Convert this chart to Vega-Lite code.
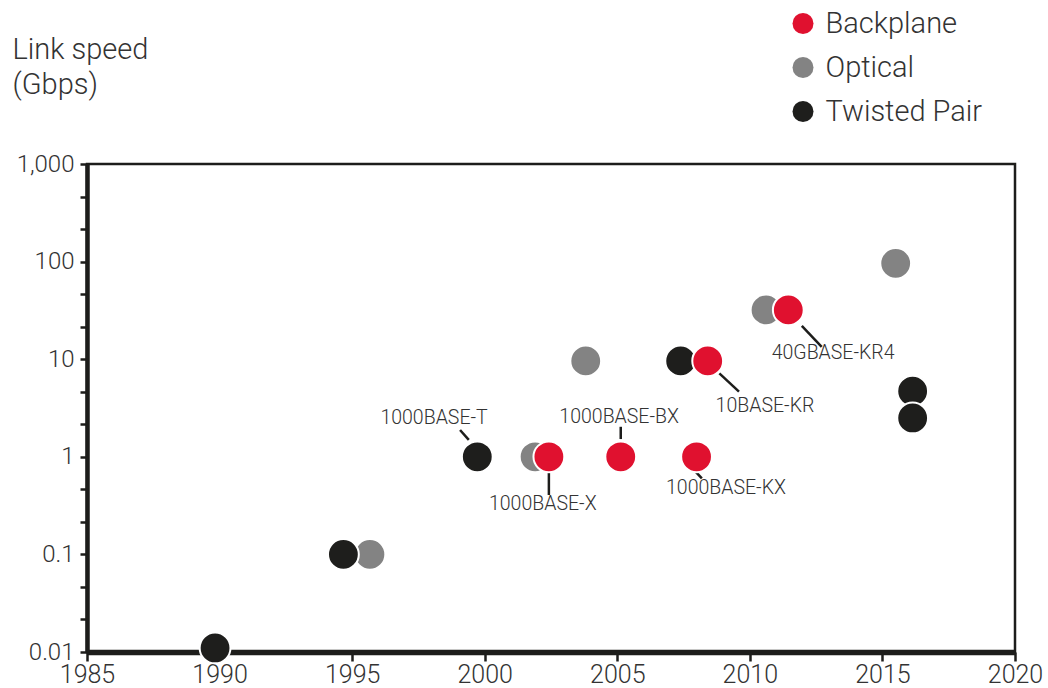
{
  "$schema": "https://vega.github.io/schema/vega-lite/v6.json",
  "width": 928,
  "height": 488,
  "autosize": {"type": "none"},
  "padding": {"left": 87, "top": 164, "right": 33, "bottom": 36},
  "background": "white",
  "config": {
    "font": "Roboto",
    "view": {"stroke": "#1d1d1b", "strokeWidth": 2.5},
    "axis": {
      "grid": false,
      "domainColor": "#1d1d1b",
      "tickColor": "#1d1d1b",
      "labelColor": "#333333",
      "labelFont": "Roboto",
      "labelFontWeight": 300,
      "titleFont": "Roboto",
      "titleFontWeight": 300,
      "titleColor": "#333333"
    },
    "legend": {
      "orient": "none",
      "legendX": 701.5,
      "legendY": -155,
      "padding": 0,
      "symbolType": "circle",
      "symbolSize": 440,
      "symbolStrokeWidth": 0,
      "symbolOpacity": 1,
      "labelFont": "Roboto",
      "labelFontWeight": 300,
      "labelFontSize": 29,
      "labelColor": "#333333",
      "labelOffset": 8,
      "rowPadding": 14
    }
  },
  "datasets": {
    "points": [
      {"year": 1995.67, "speed": 0.1, "type": "Optical"},
      {"year": 2001.9, "speed": 1.0, "type": "Optical"},
      {"year": 2003.81, "speed": 9.6, "type": "Optical"},
      {"year": 2010.61, "speed": 32, "type": "Optical"},
      {"year": 2015.5, "speed": 96, "type": "Optical"},
      {"year": 1989.83, "speed": 0.011, "type": "Twisted Pair"},
      {"year": 1994.67, "speed": 0.1, "type": "Twisted Pair"},
      {"year": 1999.72, "speed": 1.0, "type": "Twisted Pair"},
      {"year": 2007.39, "speed": 9.6, "type": "Twisted Pair"},
      {"year": 2016.14, "speed": 4.7, "type": "Twisted Pair"},
      {"year": 2016.14, "speed": 2.5, "type": "Twisted Pair"},
      {"year": 2002.42, "speed": 1.0, "type": "Backplane"},
      {"year": 2005.13, "speed": 1.0, "type": "Backplane"},
      {"year": 2007.99, "speed": 1.0, "type": "Backplane"},
      {"year": 2008.41, "speed": 9.6, "type": "Backplane"},
      {"year": 2011.45, "speed": 32, "type": "Backplane"}
    ],
    "notes": [
      {"label": "1000BASE-T", "labelYear": 1998.09, "labelSpeed": 2.5, "x1": 1999.07, "y1": 1.88, "x2": 1999.4, "y2": 1.49},
      {"label": "1000BASE-X", "labelYear": 2002.19, "labelSpeed": 0.328, "x1": 2002.42, "y1": 0.7, "x2": 2002.42, "y2": 0.406},
      {"label": "1000BASE-BX", "labelYear": 2005.07, "labelSpeed": 2.58, "x1": 2005.13, "y1": 2.03, "x2": 2005.13, "y2": 1.52},
      {"label": "1000BASE-KX", "labelYear": 2009.1, "labelSpeed": 0.479, "x1": 2007.81, "y1": 0.773, "x2": 2008.19, "y2": 0.602},
      {"label": "10BASE-KR", "labelYear": 2010.57, "labelSpeed": 3.32, "x1": 2008.85, "y1": 7.17, "x2": 2009.59, "y2": 4.65},
      {"label": "40GBASE-KR4", "labelYear": 2013.14, "labelSpeed": 11.5, "x1": 2011.96, "y1": 21.9, "x2": 2012.71, "y2": 13.4}
    ]
  },
  "layer": [
    {
      "data": {"name": "notes"},
      "mark": {"type": "rule", "stroke": "#1d1d1b", "strokeWidth": 2.5},
      "encoding": {
        "x": {"field": "x1", "type": "quantitative"},
        "x2": {"field": "x2"},
        "y": {"field": "y1", "type": "quantitative"},
        "y2": {"field": "y2"}
      }
    },
    {
      "data": {"name": "points"},
      "mark": {"type": "circle", "size": 950, "opacity": 1, "stroke": "white", "strokeWidth": 2},
      "encoding": {
        "x": {
          "field": "year",
          "type": "quantitative",
          "scale": {"domain": [1985, 2020], "nice": false, "zero": false},
          "axis": {
            "title": null,
            "values": [1985, 1990, 1995, 2000, 2005, 2010, 2015, 2020],
            "format": "d",
            "labelFontSize": 25,
            "labelPadding": 1,
            "labelFlush": false,
            "labelOverlap": false,
            "tickSize": 9,
            "tickWidth": 2.5,
            "domainWidth": 5.5
          }
        },
        "y": {
          "field": "speed",
          "type": "quantitative",
          "scale": {"type": "log", "domain": [0.01, 1000], "nice": false},
          "axis": {
            "title": ["Link speed", "(Gbps)"],
            "titleAngle": 0,
            "titleAlign": "left",
            "titleBaseline": "alphabetic",
            "titleX": -75,
            "titleY": -106,
            "titleFontSize": 29,
            "titleLineHeight": 35,
            "values": [0.01, 0.02154, 0.04642, 0.1, 0.2154, 0.4642, 1, 2.154, 4.642, 10, 21.54, 46.42, 100, 215.4, 464.2, 1000],
            "format": ",",
            "labelExpr": "indexof([0.01, 0.1, 1, 10, 100, 1000], datum.value) >= 0 ? datum.label : ''",
            "labelFontSize": 24,
            "labelPadding": 6,
            "labelOverlap": false,
            "labelFlush": false,
            "tickSize": 7,
            "tickWidth": 2.5,
            "domainWidth": 4.5
          }
        },
        "color": {
          "field": "type",
          "type": "nominal",
          "scale": {"domain": ["Backplane", "Optical", "Twisted Pair"], "range": ["#E0112F", "#838383", "#1E1E1C"]},
          "legend": {"title": null}
        }
      }
    },
    {
      "data": {"name": "notes"},
      "mark": {"type": "text", "fontSize": 19.5, "fontWeight": 300, "color": "#333333", "baseline": "middle", "align": "center"},
      "encoding": {
        "x": {"field": "labelYear", "type": "quantitative"},
        "y": {"field": "labelSpeed", "type": "quantitative"},
        "text": {"field": "label"}
      }
    }
  ]
}
